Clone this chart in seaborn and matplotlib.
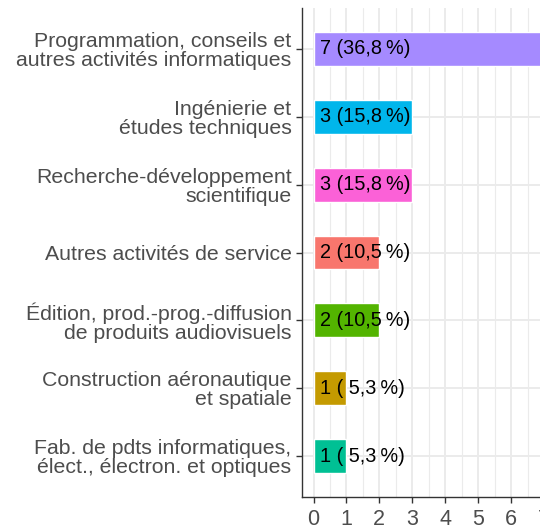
import pandas as pd
import matplotlib.pyplot as plt
import seaborn as sns

categories = [
    "Programmation, conseils et\nautres activités informatiques",
    "Ingénierie et\nétudes techniques",
    "Recherche-développement\nscientifique",
    "Autres activités de service",
    "Édition, prod.-prog.-diffusion\nde produits audiovisuels",
    "Construction aéronautique\net spatiale",
    "Fab. de pdts informatiques,\nélect., électron. et optiques",
]
counts = [7, 3, 3, 2, 2, 1, 1]
colors = ["#A58AFF", "#00B6EB", "#FB61D7", "#F8766D", "#53B400", "#C49A00", "#00C094"]

total = sum(counts)
labels = [f"{c} ({100 * c / total:4.1f}\u202f%)".replace(".", ",") for c in counts]

df = pd.DataFrame({"cat": categories, "n": counts})

sns.set_style("white")
plt.rcParams["font.family"] = ["Liberation Sans", "DejaVu Sans"]

fig = plt.figure(figsize=(5.4, 5.28), dpi=100)
ax = fig.add_axes([302 / 540, 31 / 528, 253.5 / 540, 489 / 528])

# grid first so bars sit on top
ax.set_axisbelow(True)
sns.barplot(data=df, y="cat", x="n", hue="cat", palette=dict(zip(categories, colors)),
            width=0.5, saturation=1, legend=False, ax=ax, orient="h")

for i, lab in enumerate(labels):
    ax.text(0.2, i, lab, va="center", ha="left", fontsize=14.3, color="black")

ax.set_xlim(-0.35, 7.35)
ax.set_ylim(len(categories) - 0.4, -0.6)
ax.set_xticks(range(8))
ax.set_xticks([x + 0.5 for x in range(7)], minor=True)
ax.grid(True, which="major", color="#EBEBEB", linewidth=1.4)
ax.grid(True, which="minor", axis="x", color="#EBEBEB", linewidth=0.8)

ax.set_xlabel("")
ax.set_ylabel("")
for s in ["top", "right"]:
    ax.spines[s].set_visible(False)
for s in ["left", "bottom"]:
    ax.spines[s].set_color("#333333")
    ax.spines[s].set_linewidth(1)
ax.tick_params(axis="both", which="major", length=4.5, width=1, color="#333333",
               labelcolor="#4D4D4D", labelsize=15.3, pad=3, left=True, bottom=True)
ax.tick_params(axis="x", which="minor", length=0)
ax.tick_params(axis="x", labelsize=15.5, pad=4)
for t in ax.get_yticklabels():
    t.set_linespacing(1.0)
    t.set_horizontalalignment("right")
    t.set_multialignment("right")

fig.savefig("out.png", dpi=100)
